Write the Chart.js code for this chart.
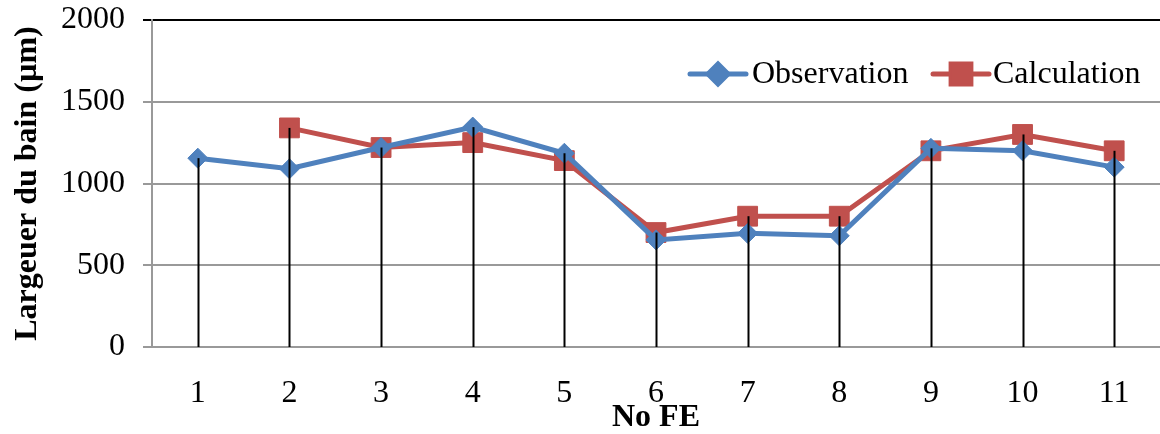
<!DOCTYPE html>
<html>
<head>
<meta charset="utf-8">
<script src="https://cdn.jsdelivr.net/npm/chart.js@4"></script>
<style>
    html, body { margin: 0; padding: 0; overflow: hidden; background: #fff; }
    /* a little wider than the window: the plot runs off the right edge like the original */
    #wrap { position: absolute; left: 0; top: 0; width: 1175px; height: 434px; }
    #chart { display: block; }
</style>
</head>
<body>
<div id="wrap"><canvas id="chart"></canvas></div>
<script>
// Data
const categories = ['1', '2', '3', '4', '5', '6', '7', '8', '9', '10', '11'];
const observation = [1155, 1090, 1220, 1345, 1185, 655, 695, 680, 1215, 1200, 1100];
const calculation = [null, 1340, 1220, 1250, 1140, 700, 800, 800, 1200, 1300, 1200];
const yTicks = [0, 500, 1000, 1500, 2000];

const FONT = "'Liberation Serif', 'Times New Roman', serif";
const BLUE = '#4F81BD';
const RED = '#C0504D';

// vertical black lines from the highest point down to the axis
const dropLines = {
    id: 'dropLines',
    afterDatasetsDraw(chart) {
        const { ctx, scales: { x, y } } = chart;
        const y0 = y.getPixelForValue(0);
        ctx.save();
        ctx.strokeStyle = '#000';
        ctx.lineWidth = 2;
        categories.forEach((c, i) => {
            const vals = chart.data.datasets.map(d => d.data[i]).filter(v => v != null);
            if (!vals.length) return;
            const px = Math.round(x.getPixelForValue(i)) + 0.5;
            ctx.beginPath();
            ctx.moveTo(px, y.getPixelForValue(Math.max(...vals)));
            ctx.lineTo(px, y0);
            ctx.stroke();
        });
        ctx.restore();
    }
};

// Excel style legend: line + marker + label, inside the plot
const lineLegend = {
    id: 'lineLegend',
    afterDraw(chart) {
        const { ctx } = chart;
        const spots = [{ x: 690, tx: 752 }, { x: 933, tx: 993 }];
        const cy = 74;
        ctx.save();
        chart.data.datasets.forEach((ds, i) => {
            const s = spots[i];
            ctx.strokeStyle = ds.borderColor;
            ctx.lineWidth = 5;
            ctx.lineCap = 'round';
            ctx.beginPath();
            ctx.moveTo(s.x, cy);
            ctx.lineTo(s.x + 56, cy);
            ctx.stroke();
            Chart.helpers.drawPoint(ctx, {
                pointStyle: ds.pointStyle,
                radius: ds.pointRadius,
                borderWidth: 1
            }, s.x + 28, cy);
            ctx.fillStyle = ds.borderColor;
            ctx.fill();
            ctx.fillStyle = '#000';
            ctx.font = `32px ${FONT}`;
            ctx.textBaseline = 'middle';
            ctx.textAlign = 'left';
            ctx.fillText(ds.label, s.tx, cy + 1);
        });
        ctx.restore();
    }
};

new Chart(document.getElementById('chart'), {
    type: 'line',
    data: {
        labels: categories,
        datasets: [
            {
                label: 'Observation',
                data: observation,
                borderColor: BLUE,
                backgroundColor: BLUE,
                borderWidth: 5,
                pointStyle: 'rectRot',
                pointRadius: 10,
                pointBorderWidth: 1,
                tension: 0
            },
            {
                label: 'Calculation',
                data: calculation,
                borderColor: RED,
                backgroundColor: RED,
                borderWidth: 5,
                pointStyle: 'rect',
                pointRadius: 14,
                pointBorderWidth: 1,
                tension: 0
            }
        ]
    },
    options: {
        responsive: true,
        maintainAspectRatio: false,
        animation: false,
        layout: { padding: { top: 20, right: 0, left: 0, bottom: 0 } },
        plugins: {
            legend: { display: false },
            tooltip: { enabled: false }
        },
        scales: {
            x: {
                offset: true,
                grid: { display: false, drawTicks: false },
                border: { color: '#999', width: 2 },
                ticks: {
                    color: '#000',
                    padding: 27,
                    font: { family: FONT, size: 32 }
                },
                title: {
                    display: true,
                    text: 'No FE',
                    color: '#000',
                    padding: { top: 0, bottom: 0 },
                    font: { family: FONT, size: 32, weight: 'bold', lineHeight: 1 }
                },
                afterFit: s => { s.height = 87; }
            },
            y: {
                min: 0,
                max: 2000,
                afterBuildTicks: s => { s.ticks = yTicks.map(v => ({ value: v })); },
                grid: {
                    color: c => c.tick && c.tick.value === 2000 ? '#000' : '#999',
                    lineWidth: 2,
                    tickLength: 9
                },
                border: { color: '#999', width: 2 },
                ticks: {
                    color: '#000',
                    padding: 18,
                    font: { family: FONT, size: 32 },
                    callback: v => String(v)
                },
                title: {
                    display: true,
                    text: 'Largeuer du bain (µm)',
                    color: '#000',
                    padding: { top: 12, bottom: 0 },
                    font: { family: FONT, size: 32, weight: 'bold', lineHeight: 1 }
                },
                afterFit: s => {
                    s.width = 152;
                    s.paddingTop = 0;
                    s.paddingBottom = 0;
                }
            }
        }
    },
    plugins: [dropLines, lineLegend]
});
</script>
</body>
</html>
